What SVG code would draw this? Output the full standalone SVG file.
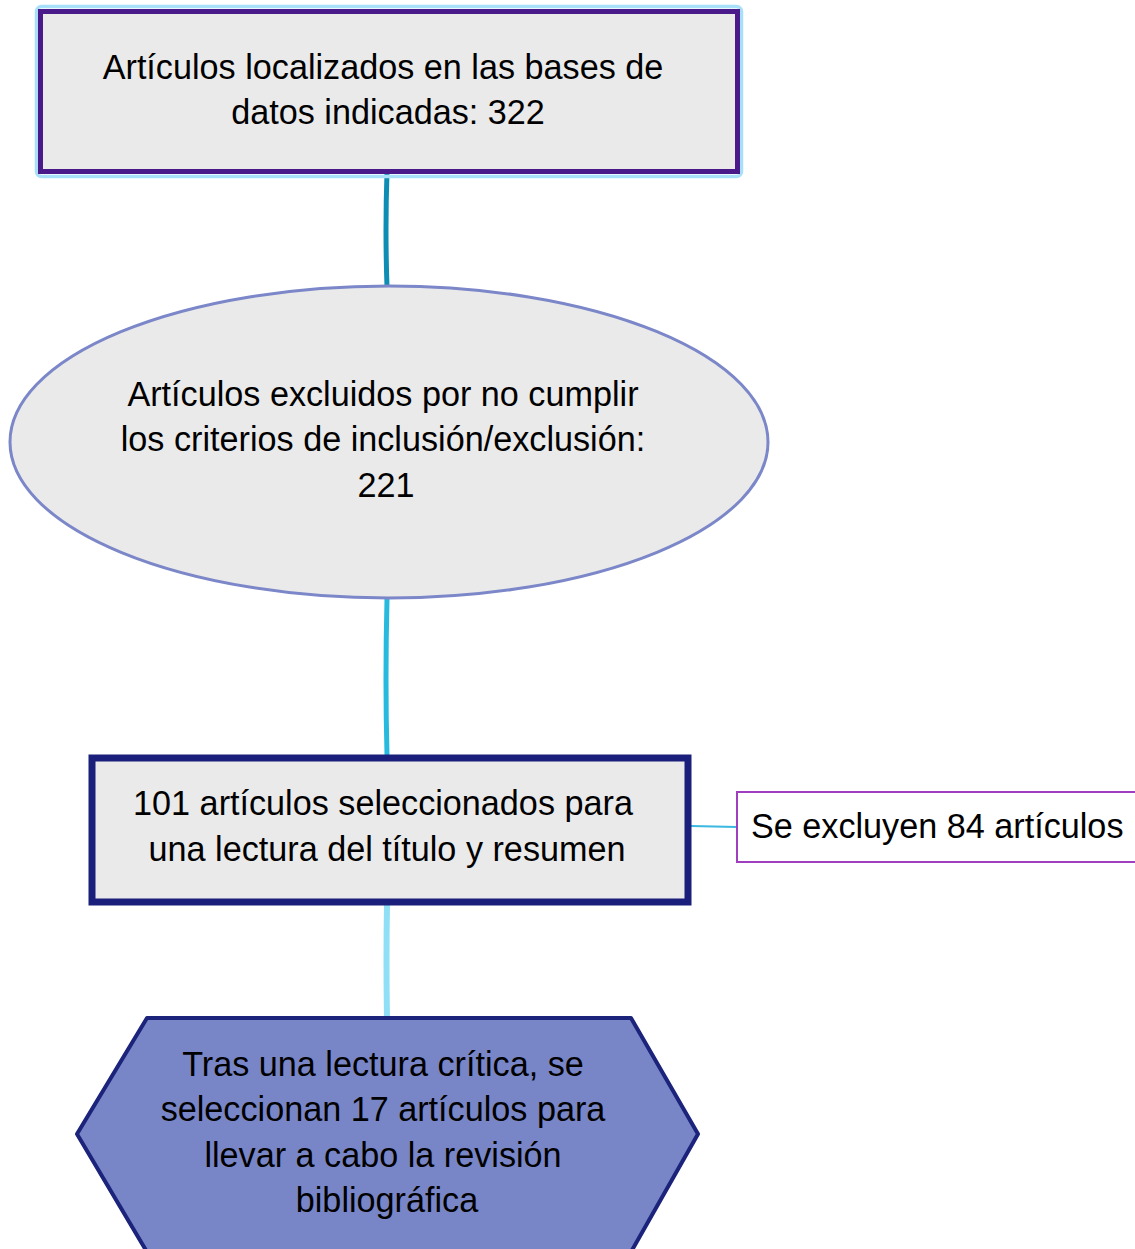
<svg xmlns="http://www.w3.org/2000/svg" width="1135" height="1249" viewBox="0 0 1135 1249">
<style>
text{font-family:"Liberation Sans",Arial,sans-serif;font-size:34.2px;fill:#000;text-anchor:middle}
.conn{fill:none;stroke-linecap:round}
</style>
<rect width="1135" height="1249" fill="#fff"/>
<g id="connectors">
<path class="conn" d="M387 172 Q385 230 387 287" stroke="#0e8db4" stroke-width="5"/>
<path class="conn" d="M387 599 Q385 680 387 755" stroke="#27bade" stroke-width="5"/>
<path class="conn" d="M387 904 Q386 960 387 1018" stroke="#8fe0f6" stroke-width="6"/>
<path class="conn" d="M691 826 L737 827" stroke="#3ab8e0" stroke-width="2"/>
</g>
<g id="node1">
<rect x="36.5" y="6.5" width="705" height="170" rx="5" fill="none" stroke="#a8e0fa" stroke-width="3.5"/>
<rect x="40.5" y="11.5" width="697" height="160" fill="#eaeaea" stroke="#4b1a8a" stroke-width="5"/>
<text x="383" y="79">Artículos localizados en las bases de</text>
<text x="388" y="124">datos indicadas: 322</text>
</g>
<g id="node2">
<ellipse cx="389" cy="442" rx="379" ry="156" fill="#eaeaea" stroke="#7b87c8" stroke-width="3"/>
<text x="383" y="406">Artículos excluidos por no cumplir</text>
<text x="383" y="451">los criterios de inclusión/exclusión:</text>
<text x="386" y="497">221</text>
</g>
<g id="node3">
<rect x="92" y="758" width="596" height="144" fill="#eaeaea" stroke="#1a1f7b" stroke-width="7"/>
<text x="383" y="815">101 artículos seleccionados para</text>
<text x="387" y="861">una lectura del título y resumen</text>
</g>
<g id="node4">
<rect x="737" y="792" width="402" height="70" fill="#fff" stroke="#a03ec0" stroke-width="2"/>
<text x="751" y="838" style="text-anchor:start">Se excluyen 84 artículos</text>
</g>
<g id="node5">
<polygon points="147,1018 631,1018 698,1134 631,1252 147,1252 77,1134" fill="#7886c8" stroke="#1c237b" stroke-width="4" stroke-linejoin="round"/>
<text x="383" y="1076">Tras una lectura crítica, se</text>
<text x="383" y="1121">seleccionan 17 artículos para</text>
<text x="383" y="1167">llevar a cabo la revisión</text>
<text x="387" y="1212">bibliográfica</text>
</g>
</svg>
